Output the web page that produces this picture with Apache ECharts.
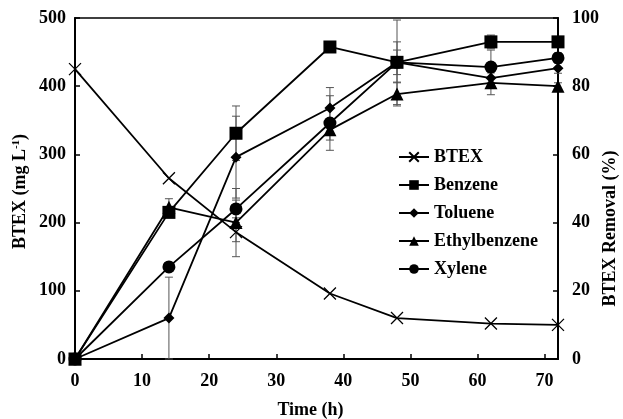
<!DOCTYPE html>
<html>
<head>
<meta charset="utf-8">
<script src="https://cdn.jsdelivr.net/npm/echarts@6/dist/echarts.min.js"></script>
<style>
  html, body { margin: 0; padding: 0; background: #fff; }
  #chart { width: 623px; height: 419px; }
</style>
</head>
<body>
<div id="chart"></div>
<script>
// sampling times (h)
var times = [0, 14, 24, 38, 48, 62, 72];

// BTEX concentration, mg/L (left axis)
var btex = [425, 265, 186, 96, 60, 52, 50];
var btexErr = [0, 0, 14, 0, 0, 0, 0];

// removal (%) (right axis)
var benzene = [0, 43, 66.2, 91.5, 87, 93, 93];
var benzeneErr = [0, 1, 8, 0, 12.4, 2, 0];
var toluene = [0, 12, 59.2, 73.6, 87, 82.4, 85.3];
var tolueneErr = [0, 12, 12, 6, 3.6, 1.5, 1.5];
var ethyl = [0, 44.5, 40, 67.2, 77.7, 81, 80];
var ethylErr = [0, 2.5, 10, 3, 3.5, 3.5, 1];
var xylene = [0, 27, 44, 69.2, 87, 85.6, 88.3];
var xyleneErr = [0, 0, 2.6, 8, 6, 5, 1.5];

var font = 'Liberation Serif';
var crossPath = 'path://M0,0L10,10M10,0L0,10';

function pairs(vals){
	var out = [];
	for(var i=0; i<times.length; i++){
		out.push([times[i], vals[i]]);
	}
	return out;
}

function errData(vals, errs){
	var out = [];
	for(var i=0; i<times.length; i++){
		if(errs[i] > 0)
			out.push([times[i], vals[i] - errs[i], vals[i] + errs[i]]);
	}
	return out;
}

function renderErr(params, api){
	var x = api.value(0);
	var lo = api.coord([x, Math.max(api.value(1), 0)]);
	var hi = api.coord([x, api.value(2)]);
	var w = 4;
	var st = { stroke: '#555', lineWidth: 1 };
	return {
		type: 'group',
		children: [
			{ type: 'line', shape: { x1: lo[0], y1: lo[1], x2: hi[0], y2: hi[1] }, style: st },
			{ type: 'line', shape: { x1: lo[0] - w, y1: lo[1], x2: lo[0] + w, y2: lo[1] }, style: st },
			{ type: 'line', shape: { x1: hi[0] - w, y1: hi[1], x2: hi[0] + w, y2: hi[1] }, style: st }
		]
	};
}

function errSeries(vals, errs, axis){
	return {
		type: 'custom',
		yAxisIndex: axis,
		renderItem: renderErr,
		data: errData(vals, errs),
		clip: false,
		z: 1,
		silent: true
	};
}

function lineSeries(name, vals, axis, symbol, size, extra){
	var s = {
		name: name,
		type: 'line',
		yAxisIndex: axis,
		data: pairs(vals),
		symbol: symbol,
		symbolSize: size,
		clip: false,
		z: 3,
		lineStyle: { color: '#000', width: 1.8 },
		itemStyle: { color: '#000' }
	};
	if(extra){
		for(var k in extra) s[k] = extra[k];
	}
	return s;
}

var chart = echarts.init(document.getElementById('chart'));

var options = {
	animation: false,
	grid: {
		left: 75, right: 65, top: 18, bottom: 60,
		outerBoundsMode: 'none',
		containLabel: false,
		show: true, borderColor: '#000', borderWidth: 1.5
	},
	legend: {
		orient: 'vertical',
		left: 393,
		top: 143,
		itemWidth: 30,
		itemHeight: 12,
		itemGap: 10,
		textStyle: { fontFamily: font, fontWeight: 'bold', fontSize: 18, color: '#000' },
		data: ['BTEX', 'Benzene', 'Toluene', 'Ethylbenzene', 'Xylene']
	},
	xAxis: {
		type: 'value',
		min: 0, max: 72, interval: 10,
		name: 'Time (h)',
		nameLocation: 'middle',
		nameGap: 42,
		nameMoveOverlap: false,
		nameTextStyle: { fontFamily: font, fontWeight: 'bold', fontSize: 18, color: '#000', padding: [0, 12, 0, 0] },
		axisLine: { lineStyle: { color: '#000', width: 2 } },
		axisTick: { inside: true, length: 5, lineStyle: { color: '#000', width: 1.5 } },
		axisLabel: { fontFamily: font, fontWeight: 'bold', fontSize: 18, color: '#000', margin: 13, showMaxLabel: false },
		splitLine: { show: false }
	},
	yAxis: [
		{
			type: 'value',
			min: 0, max: 500, interval: 100,
			name: 'BTEX (mg L{sup|-1})',
			nameLocation: 'middle',
			nameGap: 46,
			nameMoveOverlap: false,
			nameRotate: 90,
			nameTextStyle: {
				fontFamily: font, fontWeight: 'bold', fontSize: 18, color: '#000',
				padding: [0, 6, 0, 0],
				rich: { sup: { fontFamily: font, fontWeight: 'bold', fontSize: 11, color: '#000', verticalAlign: 'top', padding: [0, 0, 7, 0] } }
			},
			axisLine: { show: true, lineStyle: { color: '#000', width: 2 } },
			axisTick: { show: true, inside: true, length: 5, lineStyle: { color: '#000', width: 1.5 } },
			axisLabel: { fontFamily: font, fontWeight: 'bold', fontSize: 18, color: '#000', margin: 9 },
			splitLine: { show: false }
		},
		{
			type: 'value',
			min: 0, max: 100, interval: 20,
			position: 'right',
			name: 'BTEX Removal (%)',
			nameLocation: 'middle',
			nameGap: 43,
			nameMoveOverlap: false,
			nameRotate: 90,
			nameTextStyle: { fontFamily: font, fontWeight: 'bold', fontSize: 18, color: '#000', padding: [0, 80, 0, 0] },
			axisLine: { show: true, lineStyle: { color: '#000', width: 2 } },
			axisTick: { show: true, inside: true, length: 5, lineStyle: { color: '#000', width: 1.5 } },
			axisLabel: { fontFamily: font, fontWeight: 'bold', fontSize: 18, color: '#000', margin: 14 },
			splitLine: { show: false }
		}
	],
	series: [
		errSeries(btex, btexErr, 0),
		errSeries(benzene, benzeneErr, 1),
		errSeries(toluene, tolueneErr, 1),
		errSeries(ethyl, ethylErr, 1),
		errSeries(xylene, xyleneErr, 1),
		lineSeries('BTEX', btex, 0, crossPath, 12, {
			itemStyle: { color: 'none', borderColor: '#000', borderWidth: 1.3 }
		}),
		lineSeries('Benzene', benzene, 1, 'rect', 13),
		lineSeries('Toluene', toluene, 1, 'diamond', 11),
		lineSeries('Ethylbenzene', ethyl, 1, 'triangle', 13),
		lineSeries('Xylene', xylene, 1, 'circle', 13)
	]
};

chart.setOption(options);
</script>
</body>
</html>
